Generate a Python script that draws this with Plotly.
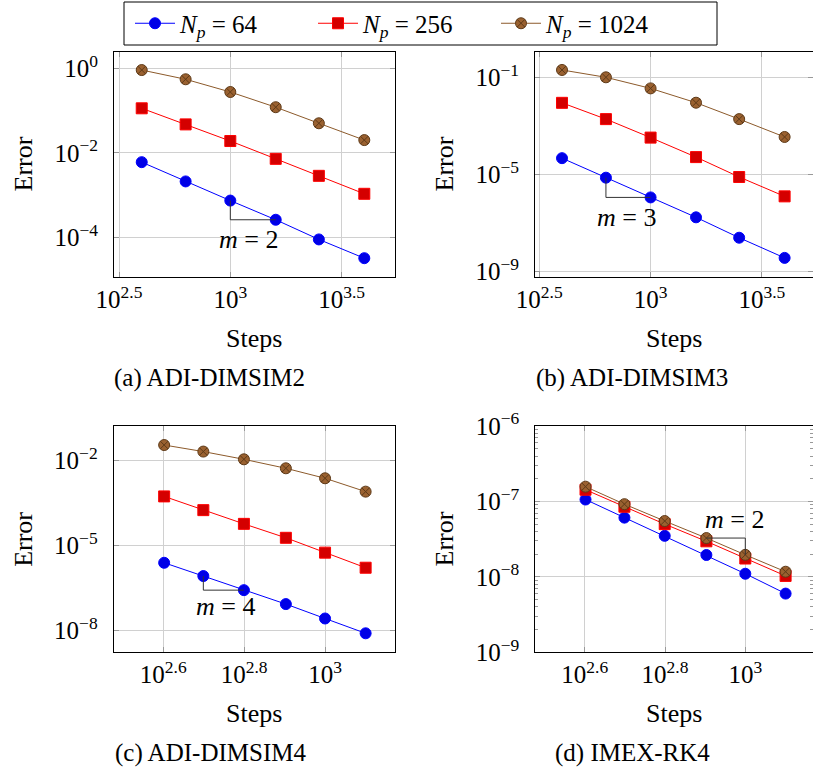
import plotly.graph_objects as go

# ---------------- data ----------------
steps_ab = [400, 630, 1000, 1600, 2500, 4000]
steps_cd = [400, 500, 630, 800, 1000, 1260]

a_64 = [6.0e-3, 2.1e-3, 7.4e-4, 2.6e-4, 8.9e-5, 3.2e-5]
a_256 = [0.113, 0.047, 0.019, 7.2e-3, 2.85e-3, 1.07e-3]
a_1024 = [0.91, 0.55, 0.275, 0.12, 0.05, 0.02]

b_64 = [4.7e-5, 7.4e-6, 1.14e-6, 1.73e-7, 2.5e-8, 3.7e-9]
b_256 = [8.9e-3, 1.9e-3, 3.3e-4, 5.2e-5, 7.9e-6, 1.26e-6]
b_1024 = [0.20, 0.10, 0.035, 9.0e-3, 1.9e-3, 3.5e-4]

c_64 = [2.5e-6, 8.5e-7, 2.7e-7, 8.7e-8, 2.7e-8, 8.1e-9]
c_256 = [5.5e-4, 1.8e-4, 5.9e-5, 1.9e-5, 5.7e-6, 1.67e-6]
c_1024 = [0.0358, 0.021, 0.0112, 5.4e-3, 2.4e-3, 8.1e-4]

d_64 = [1.06e-7, 6.1e-8, 3.5e-8, 1.95e-8, 1.1e-8, 6.0e-9]
d_256 = [1.43e-7, 8.5e-8, 5.0e-8, 2.96e-8, 1.75e-8, 1.03e-8]
d_1024 = [1.57e-7, 9.2e-8, 5.5e-8, 3.27e-8, 1.96e-8, 1.17e-8]

series_names = ["<i>N</i><sub><i>p</i></sub> = 64",
                "<i>N</i><sub><i>p</i></sub> = 256",
                "<i>N</i><sub><i>p</i></sub> = 1024"]
captions = ["(a) ADI-DIMSIM2", "(b) ADI-DIMSIM3", "(c) ADI-DIMSIM4", "(d) IMEX-RK4"]
slope_labels = ["<i>m</i> = 2", "<i>m</i> = 3", "<i>m</i> = 4", "<i>m</i> = 2"]

xtick_ab = [10**2.5, 10**3, 10**3.5]
xtext_ab = ["10<sup>2.5</sup>", "10<sup>3</sup>", "10<sup>3.5</sup>"]
xtick_cd = [10**2.6, 10**2.8, 10**3]
xtext_cd = ["10<sup>2.6</sup>", "10<sup>2.8</sup>", "10<sup>3</sup>"]
ytick_a = [1, 1e-2, 1e-4]
ytext_a = ["10<sup>0</sup>", "10<sup>−2</sup>", "10<sup>−4</sup>"]
ytick_b = [1e-1, 1e-5, 1e-9]
ytext_b = ["10<sup>−1</sup>", "10<sup>−5</sup>", "10<sup>−9</sup>"]
ytick_c = [1e-2, 1e-5, 1e-8]
ytext_c = ["10<sup>−2</sup>", "10<sup>−5</sup>", "10<sup>−8</sup>"]
ytick_d = [1e-6, 1e-7, 1e-8, 1e-9]
ytext_d = ["10<sup>−6</sup>", "10<sup>−7</sup>", "10<sup>−8</sup>", "10<sup>−9</sup>"]
yminor_d = [m * 10.0**e for e in (-9, -8, -7) for m in (2, 3, 4, 5, 6, 7, 8, 9)]

# ---------------- style ----------------
W, H = 813, 780
FONT = "'Liberation Serif', 'DejaVu Serif', serif"
styles = [
    dict(line=dict(color="#0000ff", width=1),
         marker=dict(symbol="circle", size=11, color="#0000e6", line=dict(color="#0000ff", width=1))),
    dict(line=dict(color="#ff0000", width=1),
         marker=dict(symbol="square", size=11, color="#d40000", line=dict(color="#ff0000", width=1))),
    dict(line=dict(color="#8c5a2b", width=1),
         marker=dict(symbol="circle-x", size=11, color="#9a6130", line=dict(color="#5e3a18", width=1))),
]

panels = [
    dict(x=steps_ab, ys=[a_64, a_256, a_1024], px=(114, 395), py=(52, 277),
         xr=[2.4775, 3.740], yr=[-4.94, 0.386], xt=(xtick_ab, xtext_ab), yt=(ytick_a, ytext_a),
         tri=("v", 0, 2, 3), lab=(3.08, -4.06)),
    dict(x=steps_ab, ys=[b_64, b_256, b_1024], px=(535, 813), py=(52, 277),
         xr=[2.4807, 3.7296], yr=[-9.218, 0.041], xt=(xtick_ab, xtext_ab), yt=(ytick_b, ytext_b),
         tri=("v", 0, 1, 2), lab=(2.89, -6.77)),
    dict(x=steps_cd, ys=[c_64, c_256, c_1024], px=(113.7, 395), py=(426, 652.3),
         xr=[2.4773, 3.173], yr=[-8.762, -0.775], xt=(xtick_cd, xtext_cd), yt=(ytick_c, ytext_c),
         tri=("v", 0, 1, 2), lab=(2.755, -7.16)),
    dict(x=steps_cd, ys=[d_64, d_256, d_1024], px=(535.3, 813), py=(426, 652.3),
         xr=[2.477, 3.1686], yr=[-9, -6], xt=(xtick_cd, xtext_cd), yt=(ytick_d, ytext_d),
         tri=("h", 2, 3, 4), lab=(2.972, -7.243)),
]

fig = go.Figure()
annotations = []
for i, p in enumerate(panels):
    k = "" if i == 0 else str(i + 1)
    xa, ya = "x" + k, "y" + k
    for j, ys in enumerate(p["ys"]):
        fig.add_trace(go.Scatter(x=p["x"], y=ys, mode="lines+markers", name=series_names[j],
                                 xaxis=xa, yaxis=ya, showlegend=(i == 0), **styles[j]))
    # slope triangle built from the data points
    kind, s, a, b = p["tri"]
    xs, ys = p["x"], p["ys"][s]
    if kind == "v":
        tx, ty = [xs[a], xs[a], xs[b]], [ys[a], ys[b], ys[b]]
    else:
        tx, ty = [xs[a], xs[b], xs[b]], [ys[a], ys[a], ys[b]]
    fig.add_trace(go.Scatter(x=tx, y=ty, mode="lines", line=dict(color="#333333", width=1),
                             xaxis=xa, yaxis=ya, showlegend=False, hoverinfo="skip"))
    annotations.append(dict(x=p["lab"][0], y=p["lab"][1], xref=xa, yref=ya, text=slope_labels[i],
                            showarrow=False, font=dict(size=26, family=FONT, color="black")))

    axcommon = dict(type="log", showgrid=True, gridcolor="#d0d0d0", gridwidth=1, automargin=False,
                    showline=True, linecolor="black", linewidth=1, mirror="allticks",
                    ticks="inside", ticklen=5, tickcolor="#999999", tickwidth=1,
                    tickfont=dict(size=25, family=FONT, color="black"), zeroline=False)
    x0, x1 = p["px"]
    y0, y1 = p["py"]
    xaxis = dict(axcommon, domain=[x0 / W, min(x1 / W, 1)], range=p["xr"], anchor=ya,
                 tickmode="array", tickvals=p["xt"][0], ticktext=p["xt"][1], ticklabelstandoff=0)
    yaxis = dict(axcommon, domain=[1 - y1 / H, 1 - y0 / H], range=p["yr"], anchor=xa,
                 tickmode="array", tickvals=p["yt"][0], ticktext=p["yt"][1], ticklabelstandoff=10)
    if i == 3:
        yaxis["minor"] = dict(tickmode="array", tickvals=yminor_d, ticks="inside", ticklen=3,
                              tickcolor="#999999", showgrid=False)
    fig.update_layout(**{"xaxis" + k: xaxis, "yaxis" + k: yaxis})

    cx = (x0 + min(x1, W)) / 2
    cy = (y0 + y1) / 2
    annotations.append(dict(x=(x0 - 91) / W, y=1 - cy / H, xref="paper", yref="paper", text="Error",
                            textangle=-90, showarrow=False, xanchor="center", yanchor="middle",
                            font=dict(size=26, family=FONT, color="black")))
    annotations.append(dict(x=cx / W, y=1 - (y1 + 61) / H, xref="paper", yref="paper", text="Steps",
                            showarrow=False, xanchor="center", yanchor="middle",
                            font=dict(size=26, family=FONT, color="black")))
    capx = [209, 632, 211, 632][i]
    annotations.append(dict(x=capx / W, y=1 - (y1 + 101) / H, xref="paper", yref="paper",
                            text=captions[i], showarrow=False, xanchor="center", yanchor="middle",
                            font=dict(size=25, family=FONT, color="black")))

fig.update_layout(
    template="none",
    width=W, height=H, margin=dict(l=0, r=0, t=0, b=0, autoexpand=False),
    paper_bgcolor="white", plot_bgcolor="white",
    annotations=annotations,
    shapes=[dict(type="rect", xref="paper", yref="paper", x0=124 / W, x1=717 / W,
                 y0=1 - 45 / H, y1=1 - 2 / H, line=dict(color="black", width=1))],
    legend=dict(orientation="h", x=130 / W, xanchor="left", y=1 - 23.5 / H, yanchor="middle",
                borderwidth=0, bgcolor="rgba(0,0,0,0)",
                font=dict(size=25, family=FONT, color="black"), entrywidth=128, itemwidth=40),
    font=dict(family=FONT, color="black"),
)

fig.write_html("out.html", config={"displayModeBar": False},
               post_script="document.body.style.margin='0';document.body.style.overflow='hidden';")
